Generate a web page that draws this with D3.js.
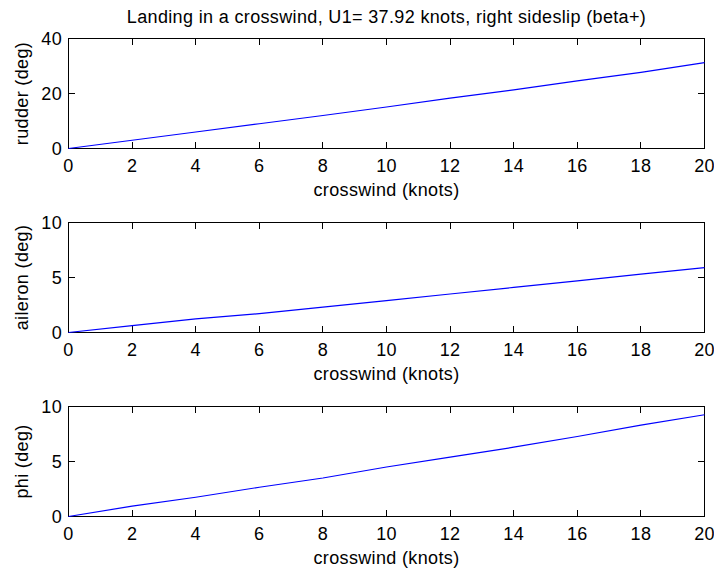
<!DOCTYPE html>
<html>
<head>
<meta charset="utf-8">
<script src="https://cdn.jsdelivr.net/npm/d3@7"></script>
<style>
    body { margin: 0; background: #fff; }
    text { font-family: "Liberation Sans", Arial, sans-serif; fill: #000; letter-spacing: 0.35px; }
</style>
</head>
<body>
<div id="chart"></div>
<script>
// crosswind landing trim, three stacked panels sharing the x axis

const crosswind = [0, 2, 4, 6, 8, 10, 12, 14, 16, 18, 20];
const rudder = [0, 3.0, 6.0, 9.0, 12.0, 15.1, 18.3, 21.3, 24.6, 27.7, 31.2];
const aileron = [0, 0.63, 1.23, 1.72, 2.3, 2.9, 3.5, 4.1, 4.7, 5.3, 5.9];
const phi = [0, 0.94, 1.75, 2.66, 3.5, 4.5, 5.4, 6.3, 7.27, 8.3, 9.25];

const xTicks = [0, 2, 4, 6, 8, 10, 12, 14, 16, 18, 20];
const titleText = "Landing in a crosswind, U1= 37.92 knots, right sideslip (beta+)";

const panels = [
    {label: "rudder (deg)", values: rudder, domain: [0, 40], ticks: [0, 20, 40]},
    {label: "aileron (deg)", values: aileron, domain: [0, 10], ticks: [0, 5, 10]},
    {label: "phi (deg)", values: phi, domain: [0, 10], ticks: [0, 5, 10]}
];

const W = 714, H = 569;
const left = 68.5, right = 704.5;
const panelTop = [38.5, 222.5, 406.5];
const panelH = 110;
const tickLen = 6.5;

const svg = d3.select("#chart").append("svg")
    .attr("width", W)
    .attr("height", H);

svg.append("text")
    .attr("x", (left + right) / 2)
    .attr("y", 23)
    .attr("text-anchor", "middle")
    .attr("font-size", "18px")
    .text(titleText);

const x = d3.scaleLinear().domain([0, 20]).range([left, right]);

panels.forEach((p, i) => {
    let top = panelTop[i], bottom = top + panelH;
    let y = d3.scaleLinear().domain(p.domain).range([bottom, top]);
    let g = svg.append("g");

    // axis box
    g.append("rect")
        .attr("x", left).attr("y", top)
        .attr("width", right - left).attr("height", panelH)
        .attr("fill", "none").attr("stroke", "#000").attr("stroke-width", 1);

    // x ticks, inward on bottom and top
    let xt = g.selectAll(".xt").data(xTicks).enter();
    xt.append("line")
        .attr("x1", d => Math.round(x(d) - 0.5) + 0.5).attr("x2", d => Math.round(x(d) - 0.5) + 0.5)
        .attr("y1", bottom).attr("y2", bottom - tickLen)
        .attr("stroke", "#000");
    xt.append("line")
        .attr("x1", d => Math.round(x(d) - 0.5) + 0.5).attr("x2", d => Math.round(x(d) - 0.5) + 0.5)
        .attr("y1", top).attr("y2", top + tickLen)
        .attr("stroke", "#000");
    xt.append("text")
        .attr("x", d => x(d))
        .attr("y", bottom + 23.5)
        .attr("text-anchor", "middle")
        .attr("font-size", "18px")
        .text(d => d);

    // y ticks, inward on left and right
    let yt = g.selectAll(".yt").data(p.ticks).enter();
    yt.append("line")
        .attr("x1", left).attr("x2", left + tickLen)
        .attr("y1", d => y(d)).attr("y2", d => y(d))
        .attr("stroke", "#000");
    yt.append("line")
        .attr("x1", right).attr("x2", right - tickLen)
        .attr("y1", d => y(d)).attr("y2", d => y(d))
        .attr("stroke", "#000");
    yt.append("text")
        .attr("x", left - 6.5)
        .attr("y", d => y(d) + 6.5)
        .attr("text-anchor", "end")
        .attr("font-size", "18px")
        .text(d => d);

    // labels
    g.append("text")
        .attr("x", (left + right) / 2)
        .attr("y", bottom + 47)
        .attr("text-anchor", "middle")
        .attr("font-size", "18px")
        .text("crosswind (knots)");

    g.append("text")
        .attr("transform", `translate(28,${(top + bottom) / 2}) rotate(-90)`)
        .attr("text-anchor", "middle")
        .attr("font-size", "18px")
        .text(p.label);

    // data line
    let line = d3.line()
        .x((d, j) => x(crosswind[j]))
        .y(d => y(d));
    g.append("path")
        .datum(p.values)
        .attr("d", line)
        .attr("fill", "none")
        .attr("stroke", "#0000ff")
        .attr("stroke-width", 1.2);
});
</script>
</body>
</html>
